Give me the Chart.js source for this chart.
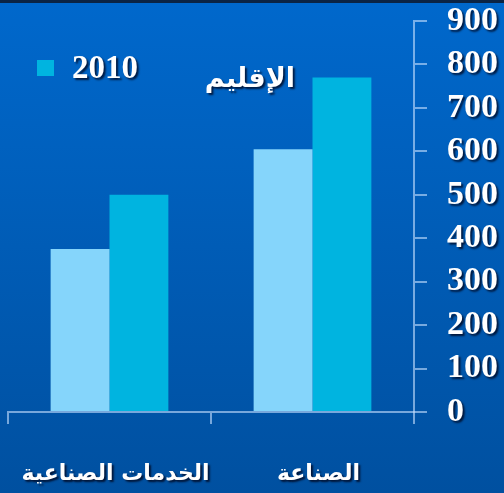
<!DOCTYPE html>
<html>
<head>
<meta charset="utf-8">
<script src="https://cdn.jsdelivr.net/npm/chart.js@4"></script>
<style>
  html, body { margin: 0; padding: 0; background: #0060c0; }
  #wrap { width: 504px; height: 493px; }
</style>
</head>
<body>
<div id="wrap"><canvas id="chart" width="504" height="493"></canvas></div>
<script>
// data
const categories = ['الخدمات الصناعية', 'الصناعة'];
const regionValues = [375, 605];
const values2010 = [500, 770];
const legendLabel = '2010';
const titleText = 'الإقليم';
const yTicks = [0, 100, 200, 300, 400, 500, 600, 700, 800, 900];

const lineColor = 'rgba(200,225,255,0.6)';
const numFont = { family: '"Liberation Serif", "DejaVu Serif", serif', size: 34, weight: 'bold' };
const arabicFont = { family: '"DejaVu Sans", sans-serif', size: 22, weight: 'bold' };

function withShadow(ctx, fn) {
  ctx.save();
  ctx.shadowColor = 'rgba(0,0,20,0.75)';
  ctx.shadowOffsetX = 2;
  ctx.shadowOffsetY = 2;
  ctx.shadowBlur = 2;
  fn();
  ctx.restore();
}

// background + text shadow on tick labels
const backdrop = {
  id: 'backdrop',
  beforeDraw(chart) {
    const ctx = chart.ctx;
    const g = ctx.createLinearGradient(0, 0, 0, chart.height);
    g.addColorStop(0, '#0068cc');
    g.addColorStop(1, '#0050a0');
    ctx.save();
    ctx.fillStyle = g;
    ctx.fillRect(0, 0, chart.width, chart.height);
    ctx.fillStyle = '#0b2444';
    ctx.fillRect(0, 0, chart.width, 3);
    ctx.restore();
  },
  afterLayout(chart) {
    Object.values(chart.scales).forEach(s => {
      if (s._shadowed) return;
      const orig = s.drawLabels;
      s.drawLabels = function (area) {
        withShadow(this.ctx, () => orig.call(this, area));
      };
      s._shadowed = true;
    });
  }
};

// legend entry and the title text
const overlay = {
  id: 'overlay',
  afterDraw(chart) {
    const ctx = chart.ctx;
    const ds = chart.data.datasets[1];
    ctx.save();
    ctx.fillStyle = ds.backgroundColor;
    ctx.fillRect(37, 60, 17, 16);
    withShadow(ctx, () => {
      ctx.fillStyle = '#fff';
      ctx.textBaseline = 'middle';
      ctx.font = 'bold 33px "Liberation Serif", serif';
      ctx.textAlign = 'left';
      ctx.fillText(ds.label, 72, 69);
      ctx.font = 'bold 27px "DejaVu Sans", sans-serif';
      ctx.textAlign = 'center';
      ctx.fillText(titleText, 250, 80);
    });
    ctx.restore();
  }
};

new Chart(document.getElementById('chart'), {
  type: 'bar',
  data: {
    labels: categories,
    datasets: [
      { label: titleText, data: regionValues, backgroundColor: '#85d5fb', borderWidth: 0 },
      { label: legendLabel, data: values2010, backgroundColor: '#00b4e0', borderWidth: 0 }
    ]
  },
  options: {
    responsive: false,
    animation: false,
    events: [],
    layout: { padding: { left: 8, top: 21, right: 0, bottom: 0 } },
    datasets: { bar: { categoryPercentage: 0.58, barPercentage: 1 } },
    plugins: { legend: { display: false }, tooltip: { enabled: false } },
    scales: {
      x: {
        offset: true,
        grid: { offset: true, drawOnChartArea: false, drawTicks: true, tickLength: 12, color: lineColor, lineWidth: 2 },
        border: { color: lineColor, width: 2 },
        ticks: { color: '#fff', font: arabicFont, padding: 37, maxRotation: 0, autoSkip: false, labelOffset: 6 },
        afterFit(s) { s.height = 81; s.paddingLeft = 0; s.paddingRight = 0; }
      },
      y: {
        position: 'right',
        min: 0,
        max: 900,
        afterBuildTicks(s) { s.ticks = yTicks.map(v => ({ value: v })); },
        grid: { drawOnChartArea: false, drawTicks: true, tickLength: 13, color: lineColor, lineWidth: 2 },
        border: { color: lineColor, width: 2 },
        ticks: { color: '#fff', font: numFont, padding: 20, crossAlign: 'near', autoSkip: false },
        afterFit(s) { s.width = 90; s.paddingTop = 0; s.paddingBottom = 0; }
      }
    }
  },
  plugins: [backdrop, overlay]
});
</script>
</body>
</html>
